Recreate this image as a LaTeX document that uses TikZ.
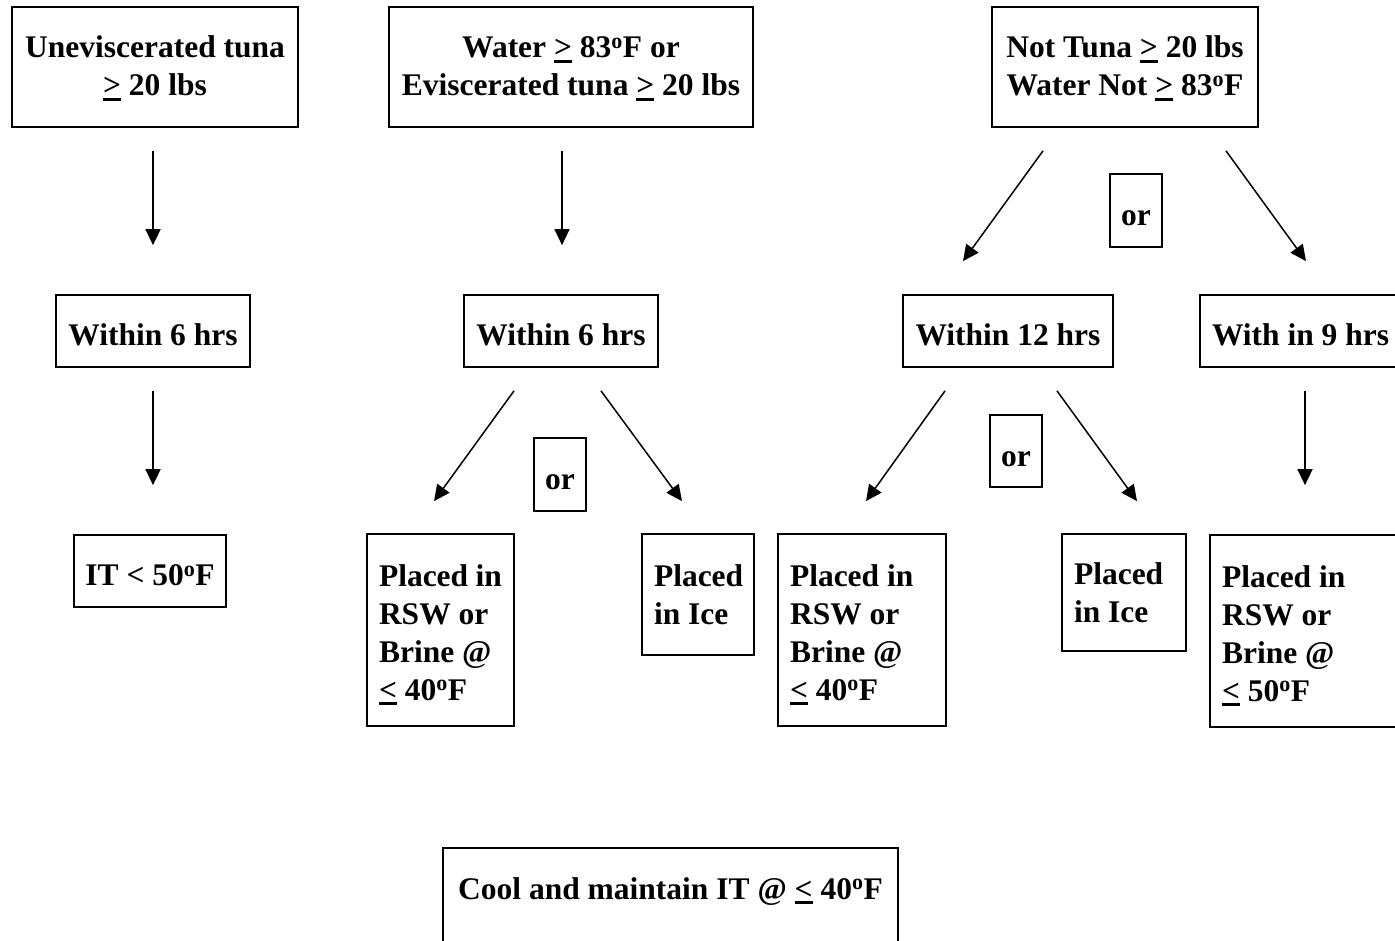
\documentclass[tikz,border=0pt]{standalone}
\usepackage{fontspec}
\setmainfont{Liberation Serif}
\usetikzlibrary{arrows.meta}
\newcommand{\ulsym}[1]{\leavevmode\setbox0\hbox{#1}\rlap{\rule[-5pt]{\wd0}{2.8pt}}\box0}
\newcommand{\mygeq}{\ulsym{>}}
\newcommand{\mylessq}{\ulsym{<}}
\newcommand{\dg}{\textsuperscript{o}}
\newcommand{\sta}{\rule{0pt}{30pt}}
\newcommand{\stb}{\rule{0pt}{31pt}}
\newcommand{\stc}{\rule{0pt}{31pt}}
\newcommand{\std}{\rule{0pt}{25pt}}
\begin{document}
\begin{tikzpicture}[x=1pt,y=-1pt,
  box/.style={draw, line width=1.7pt, inner sep=0pt, align=center,
    font=\bfseries\fontsize{31.5}{38}\selectfont},
  lbox/.style={box, align=flush left},
  txt/.style={inner sep=0pt, align=center, font=\bfseries\fontsize{31.5}{38}\selectfont},
  arr/.style={line width=1.5pt, -{Triangle[length=16pt,width=15pt]}}]
\useasboundingbox (0,0) rectangle (1395,941);
\clip (0,0) rectangle (1395,941);
\fill[white] (0,0) rectangle (1395,941);
% top row
\node[box, minimum width=286, minimum height=120] (top1) at (155,67) {\std Uneviscerated tuna\\\mygeq{} 20 lbs};
\node[box, minimum width=364, minimum height=120] (top2) at (571,67) {\std Water \mygeq{} 83\dg F or\\Eviscerated tuna \mygeq{} 20 lbs};
\node[box, minimum width=266, minimum height=120] (top3) at (1125,67) {\std Not Tuna \mygeq{} 20 lbs\\Water Not \mygeq{} 83\dg F};
% or boxes
\node[box, minimum width=52, minimum height=73] (or1) at (1136,210.5) {\stb or};
\node[box, minimum width=52, minimum height=73] (or2) at (560,474.5) {\stb or};
\node[box, minimum width=52, minimum height=72] (or3) at (1016,451) {\stb or};
% second row
\node[box, minimum width=194, minimum height=72] (w6a) at (153,331) {\sta Within 6 hrs};
\node[box, minimum width=194, minimum height=72] (w6b) at (561,331) {\sta Within 6 hrs};
\node[box, minimum width=210, minimum height=72] (w12) at (1008,331) {\sta Within 12 hrs};
\node[lbox, minimum width=220, text width=196, minimum height=72] (w9) at (1310,331) {\sta With~in~9~hrs};
% third row
\node[box, minimum width=152, minimum height=72] (it) at (150,571) {\sta IT < 50\dg F};
\node[lbox, minimum width=147, text width=123, minimum height=192] (rsw1) at (440.5,630) {\stc Placed~in\\RSW~or\\Brine~@\\\mylessq{}~40\dg F};
\node[lbox, minimum width=112, text width=88, minimum height=121] (ice1) at (698,594.5) {Placed\\in~Ice};
\node[lbox, minimum width=168, text width=144, minimum height=192] (rsw2) at (862,630) {\stc Placed~in\\RSW~or\\Brine~@\\\mylessq{}~40\dg F};
\node[lbox, minimum width=124, text width=100, minimum height=117] (ice2) at (1124,592.5) {Placed\\in~Ice};
\node[lbox, minimum width=210, text width=186, minimum height=192] (rsw3) at (1315,631) {\stc Placed~in\\RSW~or\\Brine~@\\\mylessq{}~50\dg F};
% bottom
\node[box, anchor=north, minimum width=455, minimum height=200] (cool) at (670.5,847) {};
\node[txt, anchor=base] (cooltext) at (670.5,899) {Cool and maintain IT @ \mylessq{} 40\dg F};
% arrows
\draw[arr] ([shift={(-2,23)}]top1.south) -- ([shift={(0,-49)}]w6a.north);
\draw[arr] ([shift={(-9,23)}]top2.south) -- ([shift={(1,-49)}]w6b.north);
\draw[arr] ([shift={(-82,23)}]top3.south) -- ([shift={(-45,-33)}]w12.north);
\draw[arr] ([shift={(101,23)}]top3.south) -- ([shift={(-4,-33)}]w9.north);
\draw[arr] ([shift={(0,23)}]w6a.south) -- ([shift={(3,-49)}]it.north);
\draw[arr] ([shift={(-47,23)}]w6b.south) -- ([shift={(-6.5,-32)}]rsw1.north);
\draw[arr] ([shift={(40,23)}]w6b.south) -- ([shift={(-16,-32)}]ice1.north);
\draw[arr] ([shift={(-63,23)}]w12.south) -- ([shift={(4,-32)}]rsw2.north);
\draw[arr] ([shift={(49,23)}]w12.south) -- ([shift={(13,-32)}]ice2.north);
\draw[arr] ([shift={(-5,23)}]w9.south) -- ([shift={(-10,-49)}]rsw3.north);
\end{tikzpicture}
\end{document}
